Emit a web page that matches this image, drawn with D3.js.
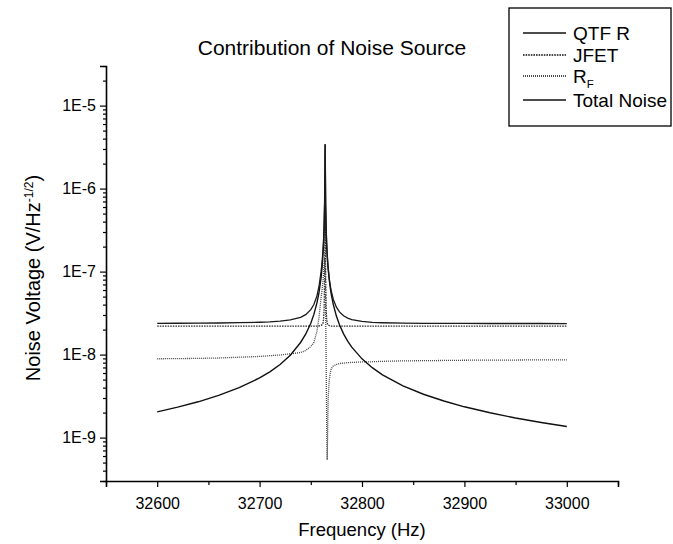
<!DOCTYPE html>
<html>
<head>
<meta charset="utf-8">
<script src="https://cdn.jsdelivr.net/npm/d3@7"></script>
<style>
  html, body { margin: 0; padding: 0; background: #fff; }
  svg { display: block; font-family: "Liberation Sans", Arial, sans-serif; }
</style>
</head>
<body>
<svg id="chart" width="673" height="544"></svg>
<script>
// ---------- data ----------
const freq = [32600, 32620, 32640, 32660, 32680, 32700, 32710, 32720, 32730, 32740, 32745, 32750,
  32753, 32756, 32758, 32760, 32761, 32762, 32762.5, 32763, 32763.5, 32764, 32764.5, 32765,
  32765.5, 32766, 32766.5, 32767, 32768, 32769, 32770, 32772, 32775, 32778, 32782, 32786, 32790,
  32800, 32810, 32820, 32840, 32860, 32880, 32900, 32925, 32950, 32975, 33000];

const qtfR = [2.04e-9, 2.33e-9, 2.70e-9, 3.22e-9, 3.99e-9, 5.23e-9, 6.20e-9, 7.61e-9, 9.85e-9, 1.40e-8, 1.76e-8, 2.39e-8,
  3.05e-8, 4.19e-8, 5.58e-8, 8.38e-8, 1.12e-7, 1.68e-7, 2.23e-7, 3.35e-7, 6.6e-7, 3.4e-6, 6.3e-7, 3.2e-7,
  2.13e-7, 1.6e-7, 1.28e-7, 1.07e-7, 8.0e-8, 6.4e-8, 5.33e-8, 4.0e-8, 2.91e-8, 2.29e-8, 1.78e-8, 1.45e-8, 1.23e-8,
  8.89e-9, 6.96e-9, 5.71e-9, 4.21e-9, 3.33e-9, 2.76e-9, 2.35e-9, 1.99e-9, 1.72e-9, 1.52e-9, 1.36e-9];

const jfet = [2.2e-8, 2.2e-8, 2.2e-8, 2.2e-8, 2.2e-8, 2.2e-8, 2.2e-8, 2.2e-8, 2.2e-8, 2.2e-8, 2.2e-8, 2.2e-8,
  2.2e-8, 2.2e-8, 2.21e-8, 2.25e-8, 2.29e-8, 2.42e-8, 2.7e-8, 3.5e-8, 9.0e-8, 5.1e-7, 9.0e-8, 3.5e-8,
  2.7e-8, 2.42e-8, 2.32e-8, 2.27e-8, 2.24e-8, 2.21e-8, 2.2e-8, 2.2e-8, 2.2e-8, 2.2e-8, 2.2e-8, 2.2e-8, 2.2e-8,
  2.2e-8, 2.2e-8, 2.2e-8, 2.2e-8, 2.2e-8, 2.2e-8, 2.2e-8, 2.2e-8, 2.2e-8, 2.2e-8, 2.2e-8];

const rF = [8.9e-9, 8.95e-9, 9.0e-9, 9.1e-9, 9.3e-9, 9.5e-9, 9.7e-9, 9.9e-9, 1.02e-8, 1.06e-8, 1.12e-8, 1.25e-8,
  1.4e-8, 1.9e-8, 2.8e-8, 4.8e-8, 6.0e-8, 8.0e-8, 1.0e-7, 1.25e-7, 1.46e-7, 1.0e-7, 3.5e-8, 8.0e-9,
  1.5e-9, 5.4e-10, 1.3e-9, 3.0e-9, 4.9e-9, 6.0e-9, 6.8e-9, 7.3e-9, 7.6e-9, 7.8e-9, 7.9e-9, 8.0e-9, 8.05e-9,
  8.15e-9, 8.2e-9, 8.3e-9, 8.4e-9, 8.45e-9, 8.5e-9, 8.55e-9, 8.6e-9, 8.6e-9, 8.65e-9, 8.65e-9];

const totalNoise = [2.38e-8, 2.386e-8, 2.392e-8, 2.403e-8, 2.422e-8, 2.453e-8, 2.483e-8, 2.53e-8, 2.617e-8, 2.815e-8, 3.03e-8, 3.48e-8,
  4.01e-8, 5.1e-8, 6.62e-8, 9.91e-8, 1.29e-7, 1.88e-7, 2.46e-7, 3.59e-7, 6.82e-7, 3.44e-6, 6.37e-7, 3.22e-7,
  2.15e-7, 1.62e-7, 1.30e-7, 1.094e-7, 8.32e-8, 6.8e-8, 5.81e-8, 4.62e-8, 3.73e-8, 3.27e-8, 2.94e-8, 2.75e-8, 2.646e-8,
  2.509e-8, 2.449e-8, 2.42e-8, 2.392e-8, 2.38e-8, 2.375e-8, 2.372e-8, 2.371e-8, 2.369e-8, 2.369e-8, 2.368e-8];

const xMajorTicks = [32600, 32700, 32800, 32900, 33000];
const xMinorTicks = [32550, 32650, 32750, 32850, 32950, 33050];
const yMajorTicks = [1e-9, 1e-8, 1e-7, 1e-6, 1e-5];
const yTickLabels = ["1E-9", "1E-8", "1E-7", "1E-6", "1E-5"];
const seriesNames = ["QTF R", "JFET", "R_F", "Total Noise"];

// ---------- layout ----------
const svg = d3.select("#chart");
const plotL = 106, plotR = 618, plotT = 66, plotB = 481;

const x = d3.scaleLinear().domain([32550, 33050]).range([plotL, plotR]);
const y = d3.scaleLog().domain([3e-10, 3e-5]).range([plotB, plotT]);

// minor y ticks 2..9 per decade inside the domain
const yMinorTicks = [];
for (let e = -10; e <= -5; e++) {
  for (let m = 2; m <= 9; m++) {
    const v = m * Math.pow(10, e);
    if (v >= 3e-10 * 0.999 && v <= 3e-5 * 1.001) yMinorTicks.push(v);
  }
}

// ---------- series ----------
const series = [
  { name: "JFET", values: jfet, dash: "1.6,1", width: 1.3, color: "#333" },
  { name: "R_F", values: rF, dash: "1,1", width: 1.3, color: "#444" },
  { name: "QTF R", values: qtfR, dash: null, width: 1.4, color: "#111" },
  { name: "Total Noise", values: totalNoise, dash: null, width: 1.3, color: "#1a1a1a" }
];

const line = d3.line().x(d => x(d[0])).y(d => y(d[1]));

svg.append("g").selectAll("path").data(series).join("path")
  .attr("d", s => line(freq.map((f, i) => [f, s.values[i]])))
  .attr("fill", "none")
  .attr("stroke", s => s.color)
  .attr("stroke-width", s => s.width)
  .attr("stroke-dasharray", s => s.dash);

// ---------- axes ----------
svg.append("g").attr("transform", `translate(${plotL},0)`)
  .call(d3.axisLeft(y).tickValues(yMajorTicks).tickSize(6).tickPadding(4)
    .tickFormat((d, i) => yTickLabels[i]));
svg.append("g").attr("transform", `translate(${plotL},0)`)
  .call(d3.axisLeft(y).tickValues(yMinorTicks).tickSize(3).tickFormat(""))
  .call(g => g.select(".domain").remove());

svg.append("g").attr("transform", `translate(0,${plotB})`)
  .call(d3.axisBottom(x).tickValues(xMajorTicks).tickSize(6).tickPadding(11)
    .tickFormat(d3.format("d")));
svg.append("g").attr("transform", `translate(0,${plotB})`)
  .call(d3.axisBottom(x).tickValues(xMinorTicks).tickSize(4).tickFormat(""))
  .call(g => g.select(".domain").remove());

svg.selectAll(".domain").attr("stroke", "#000").attr("stroke-width", 1.6);
svg.selectAll(".tick line").attr("stroke", "#000").attr("stroke-width", 1.2);
svg.selectAll(".tick text").attr("font-size", 16).attr("fill", "#000")
  .attr("font-family", "'Liberation Sans', Arial, sans-serif");

// ---------- titles ----------
svg.append("text").attr("x", 332).attr("y", 55).attr("text-anchor", "middle")
  .attr("font-size", 21).text("Contribution of Noise Source");

svg.append("text").attr("x", (plotL + plotR) / 2).attr("y", 536).attr("text-anchor", "middle")
  .attr("font-size", 18.5).text("Frequency (Hz)");

const yt = svg.append("text")
  .attr("transform", `translate(40,278) rotate(-90)`)
  .attr("text-anchor", "middle").attr("font-size", 20);
yt.append("tspan").text("Noise Voltage (V/Hz");
yt.append("tspan").attr("dy", -7).attr("font-size", 12).text("-1/2");
yt.append("tspan").attr("dy", 7).text(")");

// ---------- legend ----------
const lg = svg.append("g");
lg.append("rect").attr("x", 509).attr("y", 8).attr("width", 162).attr("height", 118)
  .attr("fill", "#fff").attr("stroke", "#000").attr("stroke-width", 1.3);

const legendStyle = {
  "QTF R": { dash: null },
  "JFET": { dash: "1.6,1" },
  "R_F": { dash: "1,1" },
  "Total Noise": { dash: null }
};
const rowY = [33, 55, 76, 100];
seriesNames.forEach((name, i) => {
  lg.append("line").attr("x1", 523).attr("x2", 566).attr("y1", rowY[i]).attr("y2", rowY[i])
    .attr("stroke", "#111").attr("stroke-width", 1.3)
    .attr("stroke-dasharray", legendStyle[name].dash);
  const t = lg.append("text").attr("x", 573).attr("y", rowY[i] + 7).attr("font-size", 19);
  if (name === "R_F") {
    t.append("tspan").text("R");
    t.append("tspan").attr("dy", 5).attr("font-size", 11.5).text("F");
  } else {
    t.text(name);
  }
});
</script>
</body>
</html>
